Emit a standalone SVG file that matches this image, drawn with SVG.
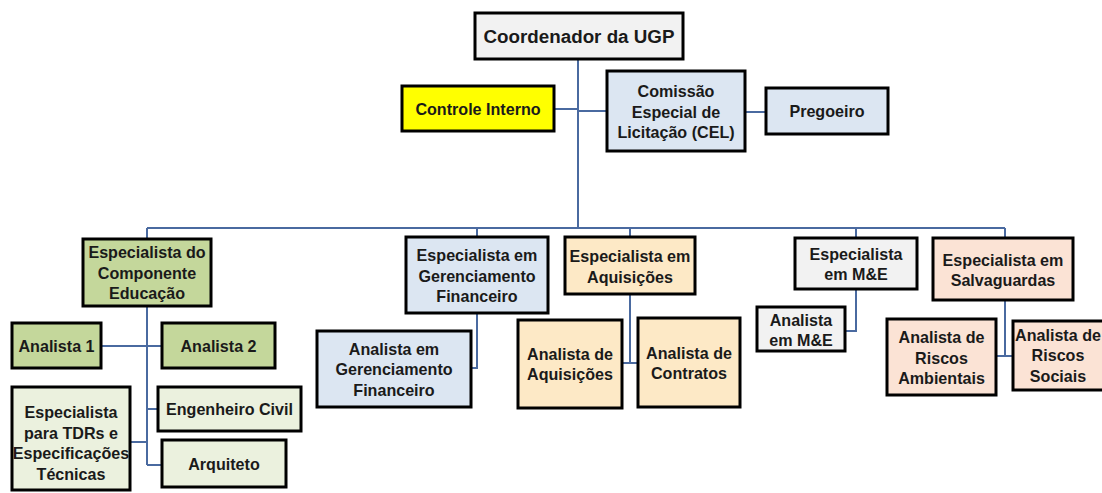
<svg xmlns="http://www.w3.org/2000/svg" width="1102" height="493" viewBox="0 0 1102 493">
<style>
.b{stroke:#000;stroke-width:3}
.gray{fill:#f2f2f2}.yel{fill:#ffff00}.blue{fill:#dce6f2}.grn{fill:#c4d79b}.lgrn{fill:#ebf1de}.tan{fill:#fde9c6}.pch{fill:#fbe3d5}
text{font-family:"Liberation Sans",Arial,sans-serif;font-weight:bold;font-size:16.1px;fill:#1a1a1a;text-anchor:middle;dominant-baseline:central}
.c{stroke:#4a6aa0;stroke-width:2;fill:none}
</style>
<rect width="1102" height="493" fill="#fff"/>
<g id="connectors">
<path class="c" d="M578 59V228M554 109H578M578 111H607M745 112H766"/>
<path class="c" d="M147 228H1005M147 228V239M477 228V237M630 228V237M856 228V238M1005 228V238"/>
<path class="c" d="M147 306V465M101 346H162M147 409H158M130 442H147M147 465H162"/>
<path class="c" d="M477 313V368H471M630 294V363M622 363H638M856 289V331H845M1005 300V356M996 356H1013"/>
</g>
<g id="coordenador"><rect class="b gray" x="475" y="13" width="208" height="46"/><text x="579" y="36" style="font-size:18.8px">Coordenador da UGP</text></g>
<g id="controle"><rect class="b yel" x="402" y="86" width="152" height="45"/><text x="478" y="108.5">Controle Interno</text></g>
<g id="cel"><rect class="b blue" x="607" y="71" width="138" height="80"/><text x="676" y="91">Comissão</text><text x="676" y="111.5">Especial de</text><text x="676" y="132">Licitação (CEL)</text></g>
<g id="pregoeiro"><rect class="b blue" x="766" y="88" width="122" height="46"/><text x="827" y="111">Pregoeiro</text></g>
<g id="educacao"><rect class="b grn" x="83" y="239" width="128" height="67"/><text x="147" y="252">Especialista do</text><text x="147" y="272.5">Componente</text><text x="147" y="293">Educação</text></g>
<g id="analista1"><rect class="b grn" x="12" y="323" width="89" height="45"/><text x="56.5" y="345.5">Analista 1</text></g>
<g id="analista2"><rect class="b grn" x="162" y="323" width="113" height="45"/><text x="218.5" y="345.5">Analista 2</text></g>
<g id="tdrs"><rect class="b lgrn" x="12" y="387" width="118" height="103"/><text x="71" y="412">Especialista</text><text x="71" y="432.5">para TDRs e</text><text x="71" y="453">Especificações</text><text x="71" y="473.5">Técnicas</text></g>
<g id="engenheiro"><rect class="b lgrn" x="158" y="387" width="143" height="44"/><text x="229.5" y="409">Engenheiro Civil</text></g>
<g id="arquiteto"><rect class="b lgrn" x="162" y="440" width="124" height="47"/><text x="224" y="463.5">Arquiteto</text></g>
<g id="gf"><rect class="b blue" x="406" y="237" width="142" height="76"/><text x="477" y="255">Especialista em</text><text x="477" y="275.5">Gerenciamento</text><text x="477" y="296">Financeiro</text></g>
<g id="analista-gf"><rect class="b blue" x="317" y="331" width="154" height="76"/><text x="394" y="348.5">Analista em</text><text x="394" y="369">Gerenciamento</text><text x="394" y="389.5">Financeiro</text></g>
<g id="aquisicoes"><rect class="b tan" x="565" y="237" width="130" height="57"/><text x="630" y="256">Especialista em</text><text x="630" y="276.5">Aquisições</text></g>
<g id="analista-aquisicoes"><rect class="b tan" x="518" y="320" width="104" height="88"/><text x="570" y="353.5">Analista de</text><text x="570" y="374">Aquisições</text></g>
<g id="analista-contratos"><rect class="b tan" x="638" y="318" width="102" height="89"/><text x="689" y="352.5">Analista de</text><text x="689" y="373">Contratos</text></g>
<g id="me"><rect class="b gray" x="795" y="238" width="122" height="51"/><text x="856" y="253.5">Especialista</text><text x="856" y="274">em M&amp;E</text></g>
<g id="analista-me"><rect class="b gray" x="757" y="307" width="88" height="44"/><text x="801" y="320">Analista</text><text x="801" y="340">em M&amp;E</text></g>
<g id="salvaguardas"><rect class="b pch" x="933" y="238" width="140" height="62"/><text x="1003" y="259.5">Especialista em</text><text x="1003" y="280">Salvaguardas</text></g>
<g id="riscos-ambientais"><rect class="b pch" x="887" y="319" width="109" height="76"/><text x="941.5" y="337">Analista de</text><text x="941.5" y="357.5">Riscos</text><text x="941.5" y="378">Ambientais</text></g>
<g id="riscos-sociais"><rect class="b pch" x="1013" y="321" width="91" height="69"/><text x="1058" y="334.5">Analista de</text><text x="1058" y="355">Riscos</text><text x="1058" y="375.5">Sociais</text></g>
</svg>
